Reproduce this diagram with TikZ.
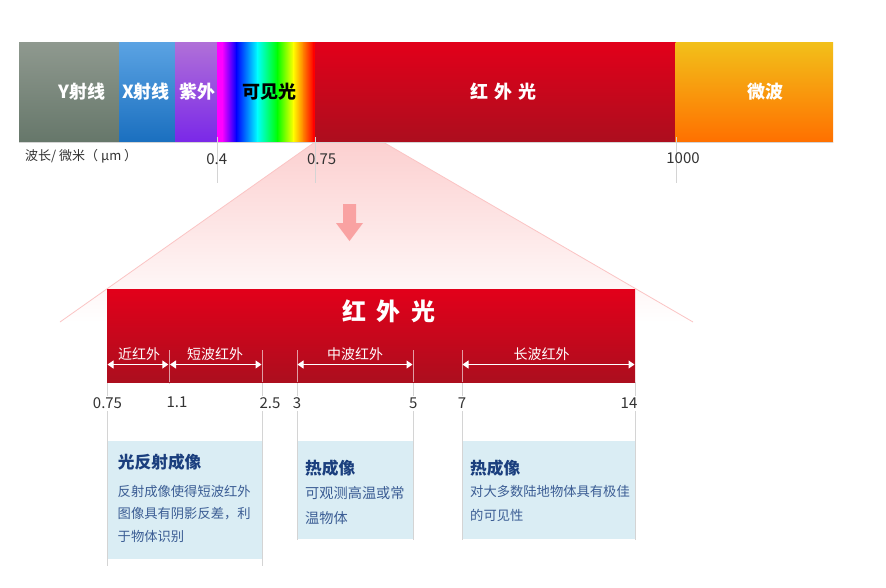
\documentclass[tikz,border=0pt]{standalone}
\usepackage{fontspec}
\setmainfont{Noto Sans CJK SC}
\usetikzlibrary{arrows.meta}
\definecolor{gtop}{HTML}{8F998F}
\definecolor{gbot}{HTML}{66776A}
\definecolor{xtop}{HTML}{5BA3E3}
\definecolor{xbot}{HTML}{1A6FBF}
\definecolor{utop}{HTML}{B070D8}
\definecolor{ubot}{HTML}{7A28E8}
\definecolor{rtop}{HTML}{E2001A}
\definecolor{rbot}{HTML}{AC0E1E}
\definecolor{mtop}{HTML}{F2C01A}
\definecolor{mbot}{HTML}{FF7000}
\definecolor{funpink}{HTML}{FCD0D0}
\definecolor{funline}{HTML}{FBC4C4}
\definecolor{arrowpink}{HTML}{F9A2A2}
\definecolor{tickgray}{HTML}{D4D4D4}
\definecolor{infobg}{HTML}{DAEDF4}
\definecolor{navy}{HTML}{1B3F7E}
\definecolor{bodyblue}{HTML}{3B5D94}
\definecolor{numgray}{HTML}{333333}
\definecolor{cmag}{HTML}{FF00FF}
\definecolor{cblue}{HTML}{0000FF}
\definecolor{ccyan}{HTML}{00FFFF}
\definecolor{cgreen}{HTML}{00FF00}
\definecolor{cyellow}{HTML}{FFFF00}
\definecolor{corange}{HTML}{FF8000}
\definecolor{cred}{HTML}{FF0000}
\newcommand{\fs}[1]{\fontsize{#1}{#1}\selectfont}
\begin{document}
\begin{tikzpicture}[x=1pt,y=-1pt,
  barlabel/.style={text=white,font=\fs{18}\bfseries,inner sep=0pt},
  axisnum/.style={text=numgray,font=\fs{15},inner sep=0pt},
  num/.style={text=numgray,font=\fs{15},fill=white,inner sep=2pt},
  sublabel/.style={text=white,font=\fs{14},inner sep=0pt},
  graytick/.style={draw=tickgray,line width=1pt},
  whitetick/.style={draw=white,draw opacity=0.6,line width=1pt},
  darrow/.style={draw=white,line width=1pt,{Triangle[length=6pt,width=8pt]}-{Triangle[length=6pt,width=8pt]}},
  infotitle/.style={text=navy,font=\fs{16.7}\bfseries,anchor=west,inner sep=0pt},
  infobody/.style={text=bodyblue,font=\fs{13.3},anchor=west,inner sep=0pt},
  infobox/.style={fill=infobg}
]
\useasboundingbox[fill=white] (0,0) rectangle (886,587);

% funnel
\shade[top color=funpink,bottom color=white] (315,142) -- (383,142) -- (693,322) -- (60,322) -- cycle;
\coordinate (fl1) at (315,142); \coordinate (fl2) at (60,322);
\coordinate (fr1) at (383,142); \coordinate (fr2) at (693,322);
\draw[funline,line width=0.8pt] (fl1) -- (fl2);
\draw[funline,line width=0.8pt] (fr1) -- (fr2);
% down arrow
\fill[arrowpink] (343,204) -- (356,204) -- (356,223) -- (363,223) -- (349.5,241) -- (336,223) -- (343,223) -- cycle;

% top spectrum bar
\shade[top color=gtop,bottom color=gbot] (19,42) rectangle (119.5,142);
\shade[top color=xtop,bottom color=xbot] (119,42) rectangle (175.5,142);
\shade[top color=utop,bottom color=ubot] (175,42) rectangle (217.5,142);
\shade[left color=cmag,right color=cmag] (217,42) rectangle (222.5,142);
\shade[left color=cmag,right color=cblue] (222,42) rectangle (236.5,142);
\shade[left color=cblue,right color=ccyan] (236,42) rectangle (257.5,142);
\shade[left color=ccyan,right color=cgreen] (257,42) rectangle (277.5,142);
\shade[left color=cgreen,right color=cyellow] (277,42) rectangle (293.5,142);
\shade[left color=cyellow,right color=corange] (293,42) rectangle (303.5,142);
\shade[left color=corange,right color=cred] (303,42) rectangle (313.5,142);
\fill[cred] (313,42) rectangle (315.5,142);
\shade[top color=rtop,bottom color=rbot] (315.5,42) rectangle (676,142);
\shade[top color=mtop,bottom color=mbot] (675.5,42) rectangle (833,142);
\draw[tickgray,line width=1pt] (19,142.5) -- (833,142.5);

\node[barlabel] (gamma) at (81.7,92) {Y射线};
\node[barlabel] (xray) at (146,92) {X射线};
\node[barlabel] (uv) at (197,92) {紫外};
\node[barlabel,text=black] (vis) at (269.5,92) {可见光};
\node[barlabel] (ir) at (503.5,92) {红\hspace{0.35em}外\hspace{0.35em}光};
\node[barlabel] (mw) at (765,92) {微波};

% top ticks
\draw[graytick] (217,137) -- (217,183);
\draw[graytick] (315,137) -- (315,183);
\draw[graytick] (676,137) -- (676,183);
\node[text=numgray,font=\fs{13},anchor=west,inner sep=0pt] (unit) at (25,156) {波长/ 微米（ μm ）};
\node[axisnum] (n04) at (216.7,159) {0.4};
\node[axisnum] (n075top) at (321.7,159) {0.75};
\node[axisnum] (n1000) at (683,158.3) {1000};

% info boxes
\fill[infobox] (107,441) rectangle (262,559);
\fill[infobox] (297,441) rectangle (413,539);
\fill[infobox] (462,441) rectangle (635,539);

% gray tick lines below
\draw[graytick] (107,382) -- (107,566);
\draw[graytick] (169,382) -- (169,384);
\draw[graytick] (262,382) -- (262,566);
\draw[graytick] (297,382) -- (297,540);
\draw[graytick] (413,382) -- (413,540);
\draw[graytick] (462,382) -- (462,540);
\draw[graytick] (635,382) -- (635,540);

% red box
\shade[top color=rtop,bottom color=rbot] (107,289) rectangle (635,382);
\node[text=white,font=\fs{24}\bfseries,inner sep=0pt] (irtitle) at (389,311) {红\hspace{0.42em}外\hspace{0.42em}光};

% white ticks in red box
\foreach \x in {169,262,297,413,462} {\draw[whitetick] (\x,350) -- (\x,382);}

% double arrows
\coordinate (a1) at (107.5,364.5); \coordinate (a2) at (168.3,364.5);
\coordinate (b1) at (170,364.5);   \coordinate (b2) at (261.5,364.5);
\coordinate (c1) at (297.5,364.5); \coordinate (c2) at (412.5,364.5);
\coordinate (d1) at (462.5,364.5); \coordinate (d2) at (634.5,364.5);
\draw[darrow] (a1) -- (a2);
\draw[darrow] (b1) -- (b2);
\draw[darrow] (c1) -- (c2);
\draw[darrow] (d1) -- (d2);
\node[sublabel] (near) at (139,354) {近红外};
\node[sublabel] (swir) at (215,354) {短波红外};
\node[sublabel] (mwir) at (355,354) {中波红外};
\node[sublabel] (lwir) at (541.5,354) {长波红外};

% numbers
\node[num] (b075) at (107.5,403.3) {0.75};
\node[num] (b11) at (177,402) {1.1};
\node[num] (b25) at (270,403.3) {2.5};
\node[num] (b3) at (297,403.3) {3};
\node[num] (b5) at (413.3,403.3) {5};
\node[num] (b7) at (462,403.3) {7};
\node[num] (b14) at (629,403.3) {14};

% info texts
\node[infotitle] (t1) at (117.7,461.7) {光反射成像};
\node[infobody] (t1a) at (117.5,491.7) {反射成像使得短波红外};
\node[infobody] (t1b) at (117.5,514) {图像具有阴影反差，利};
\node[infobody] (t1c) at (117.5,536) {于物体识别};

\node[infotitle] (t2) at (305,468) {热成像};
\node[infobody,font=\fs{14.2}] (t2a) at (305,493.3) {可观测高温或常};
\node[infobody,font=\fs{14.2}] (t2b) at (305,518.3) {温物体};

\node[infotitle] (t3) at (470,468) {热成像};
\node[infobody] (t3a) at (470,491.7) {对大多数陆地物体具有极佳};
\node[infobody] (t3b) at (470,515) {的可见性};
\end{tikzpicture}
\end{document}
